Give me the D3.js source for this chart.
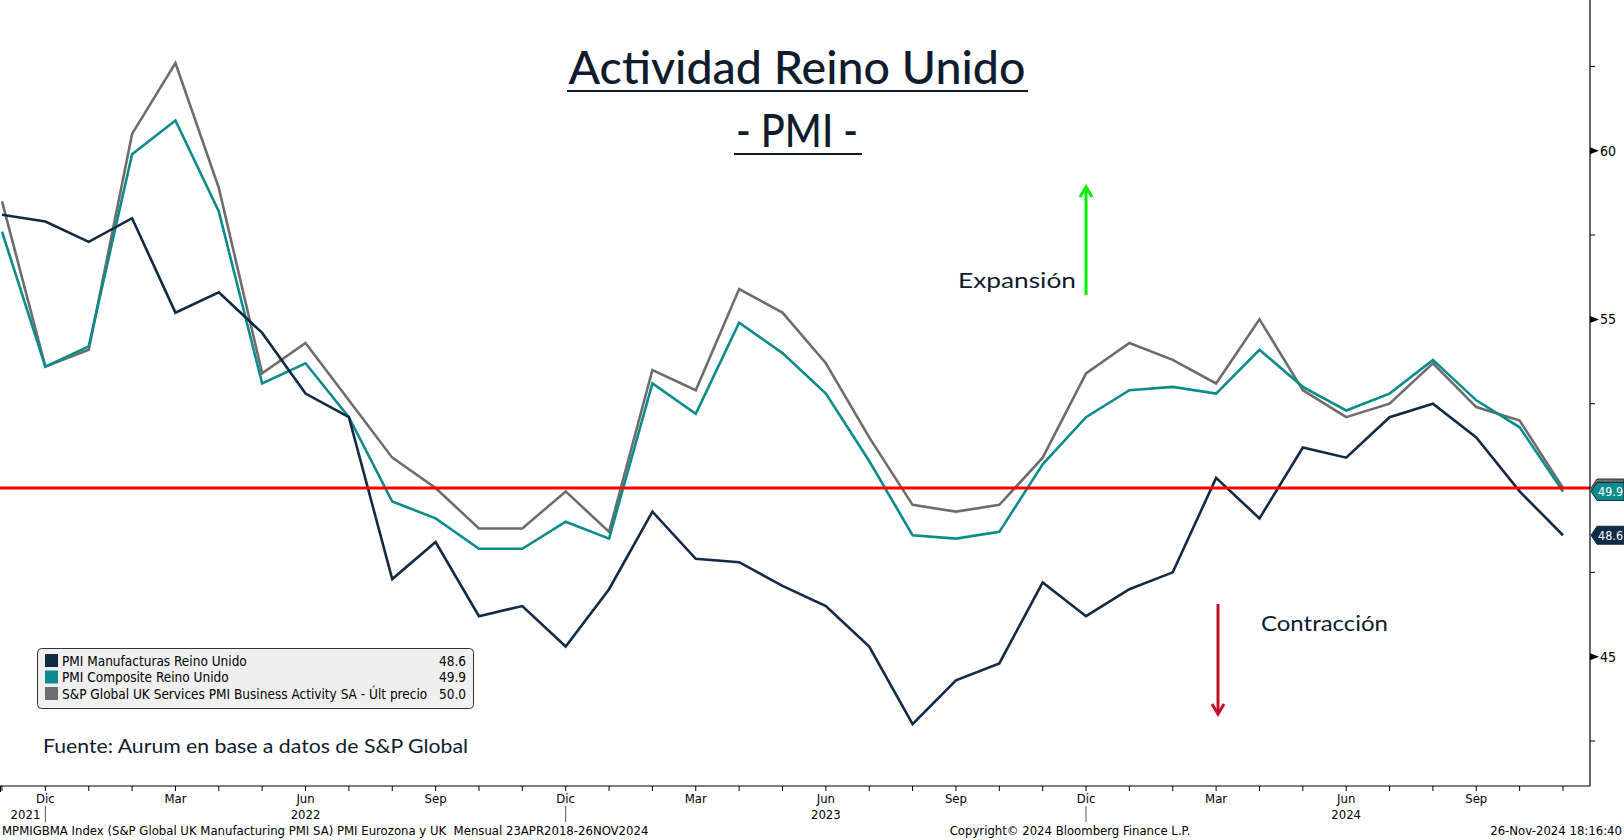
<!DOCTYPE html>
<html><head><meta charset="utf-8">
<script src="https://cdn.jsdelivr.net/npm/d3@7"></script>
<style>
html,body{margin:0;padding:0;background:#fff;}
svg{display:block;}
</style></head>
<body><svg id="chart" width="1624" height="840"></svg>
<script>
const months = ["2021-11","2021-12","2022-01","2022-02","2022-03","2022-04","2022-05","2022-06","2022-07","2022-08","2022-09","2022-10","2022-11","2022-12","2023-01","2023-02","2023-03","2023-04","2023-05","2023-06","2023-07","2023-08","2023-09","2023-10","2023-11","2023-12","2024-01","2024-02","2024-03","2024-04","2024-05","2024-06","2024-07","2024-08","2024-09","2024-10","2024-11"];
const manufacturing = [58.1,57.9,57.3,58.0,55.2,55.8,54.6,52.8,52.1,47.3,48.4,46.2,46.5,45.3,47.0,49.3,47.9,47.8,47.1,46.5,45.3,43.0,44.3,44.8,47.2,46.2,47.0,47.5,50.3,49.1,51.2,50.9,52.1,52.5,51.5,49.9,48.6];
const composite = [57.6,53.6,54.2,59.9,60.9,58.2,53.1,53.7,52.1,49.6,49.1,48.2,48.2,49.0,48.5,53.1,52.2,54.9,54.0,52.8,50.8,48.6,48.5,48.7,50.7,52.1,52.9,53.0,52.8,54.1,53.0,52.3,52.8,53.8,52.6,51.8,49.9];
const services = [58.5,53.6,54.1,60.5,62.6,58.9,53.4,54.3,52.6,50.9,50.0,48.8,48.8,49.9,48.7,53.5,52.9,55.9,55.2,53.7,51.5,49.5,49.3,49.5,50.9,53.4,54.3,53.8,53.1,55.0,52.9,52.1,52.5,53.7,52.4,52.0,50.0];
const seriesNames = ["PMI Manufacturas Reino Unido","PMI Composite Reino Unido","S&P Global UK Services PMI Business Activity SA - Últ precio"];
const threshold = [50];
const yLabelTicks = [45,55,60];
const yMinorTicks = [42.5,47.5,52.5,57.5,62.5];
const monthNames = ["Ene","Feb","Mar","Abr","May","Jun","Jul","Ago","Sep","Oct","Nov","Dic"];
const monthLabelSet = ["Dic","Mar","Jun","Sep"];
const yearLabels = [{key:"2022-06",text:"2022"},{key:"2023-06",text:"2023"},{key:"2024-06",text:"2024"}];
const firstYearLabel = "2021";

const W = 1624, H = 840;
const plot = {left:0, right:1590, top:0, bottom:786};
const svg = d3.select("#chart");

const x = d3.scalePoint().domain(months).range([2, 1563]);
const y = d3.scaleLinear().domain([41.165, 64.47]).range([786, 0]);

const colors = ["#112a46", "#0b8b8b", "#6d6d6d"];
const seriesData = [manufacturing, composite, services];
const bbFont = "'DejaVu Sans Condensed', 'DejaVu Sans', sans-serif";

// lines
const line = d3.line().x((d,i) => x(months[i])).y(d => y(d));
[2,1,0].forEach(si => {
  svg.append("path").datum(seriesData[si])
    .attr("d", line).attr("fill", "none")
    .attr("stroke", colors[si]).attr("stroke-width", 2.6)
    .attr("stroke-linejoin", "miter");
});
// threshold line on top
svg.selectAll("line.thr").data(threshold).join("line").attr("class", "thr")
  .attr("x1", 0).attr("x2", plot.right)
  .attr("y1", d => y(d)).attr("y2", d => y(d))
  .attr("stroke", "#ff0000").attr("stroke-width", 3);

// right axis
const axX = plot.right;
svg.append("line").attr("x1", axX).attr("x2", axX).attr("y1", 0).attr("y2", plot.bottom)
  .attr("stroke", "#000").attr("stroke-width", 1.2);
yLabelTicks.forEach(v => {
  const yy = y(v);
  svg.append("path").attr("d", `M${axX},${yy-3.5}L${axX+9},${yy}L${axX},${yy+3.5}Z`).attr("fill", "#000");
  svg.append("text").attr("x", axX+10).attr("y", yy+5).text(v)
    .attr("font-family", bbFont).attr("font-size", 14).attr("fill", "#000");
});
yMinorTicks.forEach(v => {
  svg.append("line").attr("x1", axX).attr("x2", axX+5).attr("y1", y(v)).attr("y2", y(v))
    .attr("stroke", "#000").attr("stroke-width", 1);
});

// value tags
function tag(v, fill, stroke, text) {
  const yy = y(v);
  const g = svg.append("g");
  g.append("path").attr("d", `M${axX+1},${yy}L${axX+7},${yy-9}L${W},${yy-9}L${W},${yy+9}L${axX+7},${yy+9}Z`)
    .attr("fill", fill).attr("stroke", stroke).attr("stroke-width", 1);
  if (text) g.append("text").attr("x", axX+8).attr("y", yy+4.5).text(text)
    .attr("font-family", bbFont).attr("font-size", 12.5).attr("fill", "#fff");
}
tag(services[services.length-1], "#6d6d6d", "#333", null);
tag(composite[composite.length-1], "#0b8b8b", "#0a2a3a", composite[composite.length-1].toFixed(1));
tag(manufacturing[manufacturing.length-1], "#112a46", "#112a46", manufacturing[manufacturing.length-1].toFixed(1));

// bottom axis
const axY = plot.bottom;
svg.append("line").attr("x1", 0).attr("x2", axX).attr("y1", axY).attr("y2", axY)
  .attr("stroke", "#000").attr("stroke-width", 1.2);
svg.append("line").attr("x1", 0.5).attr("x2", 0.5).attr("y1", axY).attr("y2", axY+6).attr("stroke", "#000");
months.forEach(m => {
  svg.append("line").attr("x1", x(m)).attr("x2", x(m)).attr("y1", axY).attr("y2", axY+5)
    .attr("stroke", "#000").attr("stroke-width", 1);
  const name = monthNames[+m.slice(5) - 1];
  if (monthLabelSet.includes(name)) {
    svg.append("text").attr("x", x(m)).attr("y", axY+17).attr("text-anchor", "middle").text(name)
      .attr("font-family", bbFont).attr("font-size", 13).attr("fill", "#000");
  }
  if (name === "Dic") {
    svg.append("line").attr("x1", x(m)).attr("x2", x(m)).attr("y1", axY+20).attr("y2", axY+36)
      .attr("stroke", "#555").attr("stroke-width", 1);
  }
});
svg.append("text").attr("x", x(months[1]) - 5).attr("y", axY+33).attr("text-anchor", "end").text(firstYearLabel)
  .attr("font-family", bbFont).attr("font-size", 13).attr("fill", "#000");
yearLabels.forEach(d => {
  svg.append("text").attr("x", x(d.key)).attr("y", axY+33).attr("text-anchor", "middle").text(d.text)
    .attr("font-family", bbFont).attr("font-size", 13).attr("fill", "#000");
});

// footer
svg.append("text").attr("x", 2).attr("y", 835).text("MPMIGBMA Index (S&P Global UK Manufacturing PMI SA) PMI Eurozona y UK  Mensual 23APR2018-26NOV2024")
  .attr("font-family", bbFont).attr("font-size", 13).attr("fill", "#000").style("white-space", "pre");
svg.append("text").attr("x", 1070).attr("y", 835).attr("text-anchor", "middle").text("Copyright© 2024 Bloomberg Finance L.P.")
  .attr("font-family", bbFont).attr("font-size", 13).attr("fill", "#000");
svg.append("text").attr("x", 1622).attr("y", 835).attr("text-anchor", "end").text("26-Nov-2024 18:16:40")
  .attr("font-family", bbFont).attr("font-size", 13).attr("fill", "#000");

// title
const titleFont = "Lato, 'Noto Sans', sans-serif";
const navy = "#0e1c2e";
function uTitle(txt, cx, base, size, len, uy, ux1, ux2) {
  svg.append("text").attr("x", cx).attr("y", base).attr("text-anchor", "middle").text(txt)
    .attr("font-family", titleFont).attr("font-size", size).attr("fill", navy).attr("font-weight", 500)
    .attr("textLength", len).attr("lengthAdjust", "spacingAndGlyphs");
  svg.append("line").attr("x1", ux1).attr("x2", ux2).attr("y1", uy).attr("y2", uy)
    .attr("stroke", navy).attr("stroke-width", 2);
}
uTitle("Actividad Reino Unido", 797, 84, 46, 457, 91, 567, 1028);
uTitle("- PMI -", 797, 147, 46, 122, 154, 734, 862);

// annotations
function annot(txt, x0, base, len) {
  svg.append("text").attr("x", x0).attr("y", base).text(txt)
    .attr("font-family", titleFont).attr("font-size", 22).attr("fill", navy)
    .attr("textLength", len).attr("lengthAdjust", "spacingAndGlyphs");
}
annot("Expansión", 958, 288, 118);
svg.append("line").attr("x1", 1086).attr("x2", 1086).attr("y1", 295).attr("y2", 188)
  .attr("stroke", "#00ee00").attr("stroke-width", 3);
svg.append("path").attr("d", "M1080,197L1086,187L1092,197").attr("fill", "none").attr("stroke", "#00ee00").attr("stroke-width", 3);

annot("Contracción", 1261, 631, 127);
svg.append("line").attr("x1", 1218).attr("x2", 1218).attr("y1", 604).attr("y2", 713)
  .attr("stroke", "#c0102a").attr("stroke-width", 3);
svg.append("path").attr("d", "M1212,704L1218,714L1224,704").attr("fill", "none").attr("stroke", "#c0102a").attr("stroke-width", 3);

// legend
const lg = svg.append("g");
lg.append("rect").attr("x", 37.5).attr("y", 648.5).attr("width", 436).attr("height", 60).attr("rx", 4)
  .attr("fill", "#f0f0f0").attr("stroke", "#333").attr("stroke-width", 1);
const lastVals = seriesData.map(s => s[s.length-1].toFixed(1));
seriesNames.forEach((n, i) => {
  const yy = 654 + i*16.5;
  lg.append("rect").attr("x", 45).attr("y", yy).attr("width", 13).attr("height", 13).attr("fill", colors[i]);
  lg.append("text").attr("x", 62).attr("y", yy+11.5).text(n)
    .attr("font-family", bbFont).attr("font-size", 13.5).attr("fill", "#000");
  lg.append("text").attr("x", 466).attr("y", yy+11.5).attr("text-anchor", "end").text(lastVals[i])
    .attr("font-family", bbFont).attr("font-size", 13.5).attr("fill", "#000");
});

svg.append("text").attr("x", 43).attr("y", 753).text("Fuente: Aurum en base a datos de S&P Global")
  .attr("font-family", titleFont).attr("font-size", 20).attr("fill", navy)
  .attr("textLength", 425).attr("lengthAdjust", "spacingAndGlyphs");
</script>
</body></html>
